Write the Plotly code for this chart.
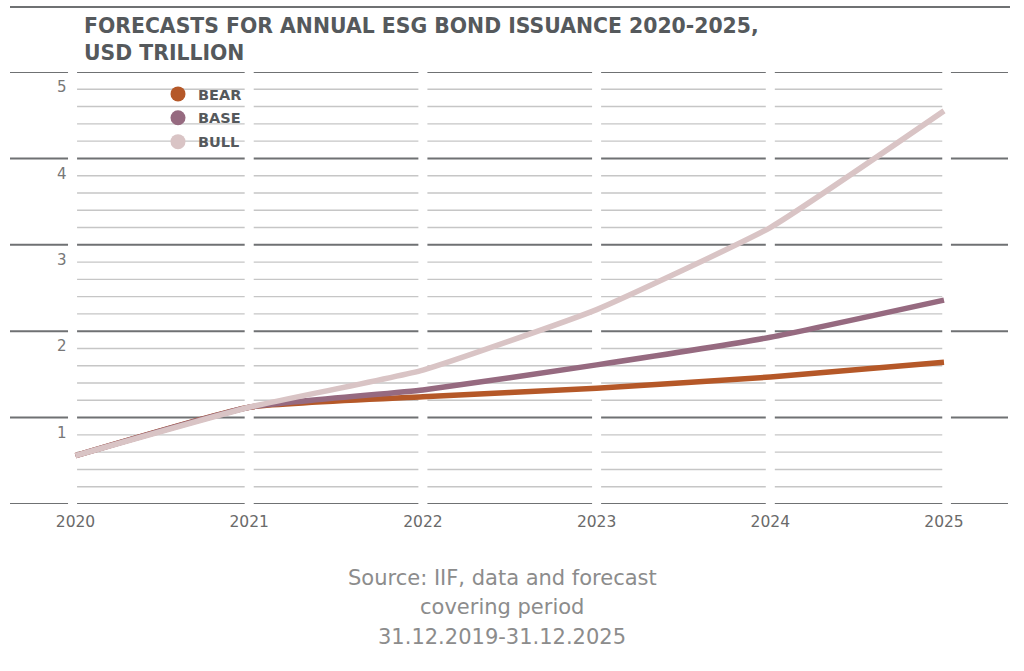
import plotly.graph_objects as go

# ---- data ----
years = [2020, 2021, 2022, 2023, 2024, 2025]
bear = [0.56, 1.12, 1.24, 1.34, 1.47, 1.64]
base = [0.56, 1.12, 1.32, 1.61, 1.93, 2.36]
bull = [0.56, 1.12, 1.55, 2.25, 3.20, 4.55]
series_names = ["BEAR", "BASE", "BULL"]
series_colors = ["#b55828", "#966a80", "#d9c4c5"]
y_ticks = [1, 2, 3, 4, 5]
title_text = "FORECASTS FOR ANNUAL ESG BOND ISSUANCE 2020-2025,<br>USD TRILLION"
source_lines = ["Source: IIF, data and forecast", "covering period", "31.12.2019-31.12.2025"]

# ---- layout geometry ----
X0, X1 = 2019.6229, 2025.3685
Y0, Y1 = 0, 5
left_col = (2019.6229, 2019.957)
right_col = (2025.04, 2025.3685)
gap = 0.026
data_cols = []
edges = [2020.009] + [y for y in years[1:-1]] + [2024.99]
for i in range(len(years) - 1):
    a = edges[i] + (gap if i > 0 else 0)
    b = edges[i + 1] - (gap if i < len(years) - 2 else 0)
    data_cols.append((a, b))

MAJOR = "#6f7173"
MINOR = "#c6c6c6"

shapes = []
majors = list(range(0, 6))
minors = [m + k / 5 for m in range(0, 5) for k in range(1, 5)]
for (a, b) in data_cols:
    for v in minors:
        shapes.append(dict(type="line", xref="x", yref="y", x0=a, x1=b, y0=v, y1=v,
                           line=dict(color=MINOR, width=1.4), layer="below"))
for (a, b) in [left_col] + data_cols + [right_col]:
    for v in majors:
        shapes.append(dict(type="line", xref="x", yref="y", x0=a, x1=b, y0=v, y1=v,
                           line=dict(color=MAJOR, width=2), layer="below"))
# top rule
shapes.append(dict(type="line", xref="paper", yref="paper", x0=0, x1=1.002,
                   y0=(504 - 7) / 432, y1=(504 - 7) / 432,
                   line=dict(color=MAJOR, width=2)))

fig = go.Figure()
for name, vals, col in zip(series_names, [bear, base, bull], series_colors):
    fig.add_trace(go.Scatter(x=years, y=vals, mode="lines", name=name,
                             line=dict(color=col, width=5.5, shape="spline", smoothing=0.4),
                             showlegend=False, hoverinfo="skip"))
for name, col in zip(series_names, series_colors):
    fig.add_trace(go.Scatter(x=[None], y=[None], mode="markers", name=name,
                             legendgroup=name,
                             marker=dict(color=col, size=15, symbol="circle")))

annotations = []
for i, (line, py) in enumerate(zip(source_lines, [578, 607, 637])):
    annotations.append(dict(text=line, xref="paper", yref="paper",
                            x=(502 - 10) / 998, y=(504 - py) / 432,
                            xanchor="center", yanchor="middle", showarrow=False,
                            font=dict(family="DejaVu Sans", size=21, color="#8c8c8c")))

fig.update_layout(
    width=1024, height=671,
    margin=dict(l=10, r=16, t=72, b=167, pad=0),
    paper_bgcolor="white", plot_bgcolor="white",
    title=dict(text=title_text, xref="container", yref="container",
               x=84 / 1024, xanchor="left", y=1 - 33 / 671, yanchor="top",
               font=dict(family="DejaVu Sans", size=20.4, color="#55595c", weight="bold")),
    xaxis=dict(range=[X0, X1], tickvals=years, ticktext=[str(y) for y in years],
               showgrid=False, zeroline=False, showline=False, ticks="",
               tickfont=dict(family="DejaVu Sans", size=15.5, color="#6a6a6a"),
               ticklabelstandoff=6, fixedrange=True),
    yaxis=dict(range=[Y0, Y1], tickvals=y_ticks, ticktext=[str(v) for v in y_ticks],
               showgrid=False, zeroline=False, showline=False, ticks="",
               ticklabelposition="inside", ticklabelstandoff=44, ticklabelshift=15,
               tickfont=dict(family="DejaVu Sans", size=15, color="#777777"),
               fixedrange=True),
    legend=dict(x=(158 - 10) / 998, xanchor="left", y=(504 - 78) / 432, yanchor="top",
                font=dict(family="DejaVu Sans", size=14.5, color="#55595c", weight="bold"),
                bgcolor="rgba(0,0,0,0)", tracegroupgap=2, itemwidth=30),
    shapes=shapes,
    annotations=annotations,
)

fig.write_html("out.html")
